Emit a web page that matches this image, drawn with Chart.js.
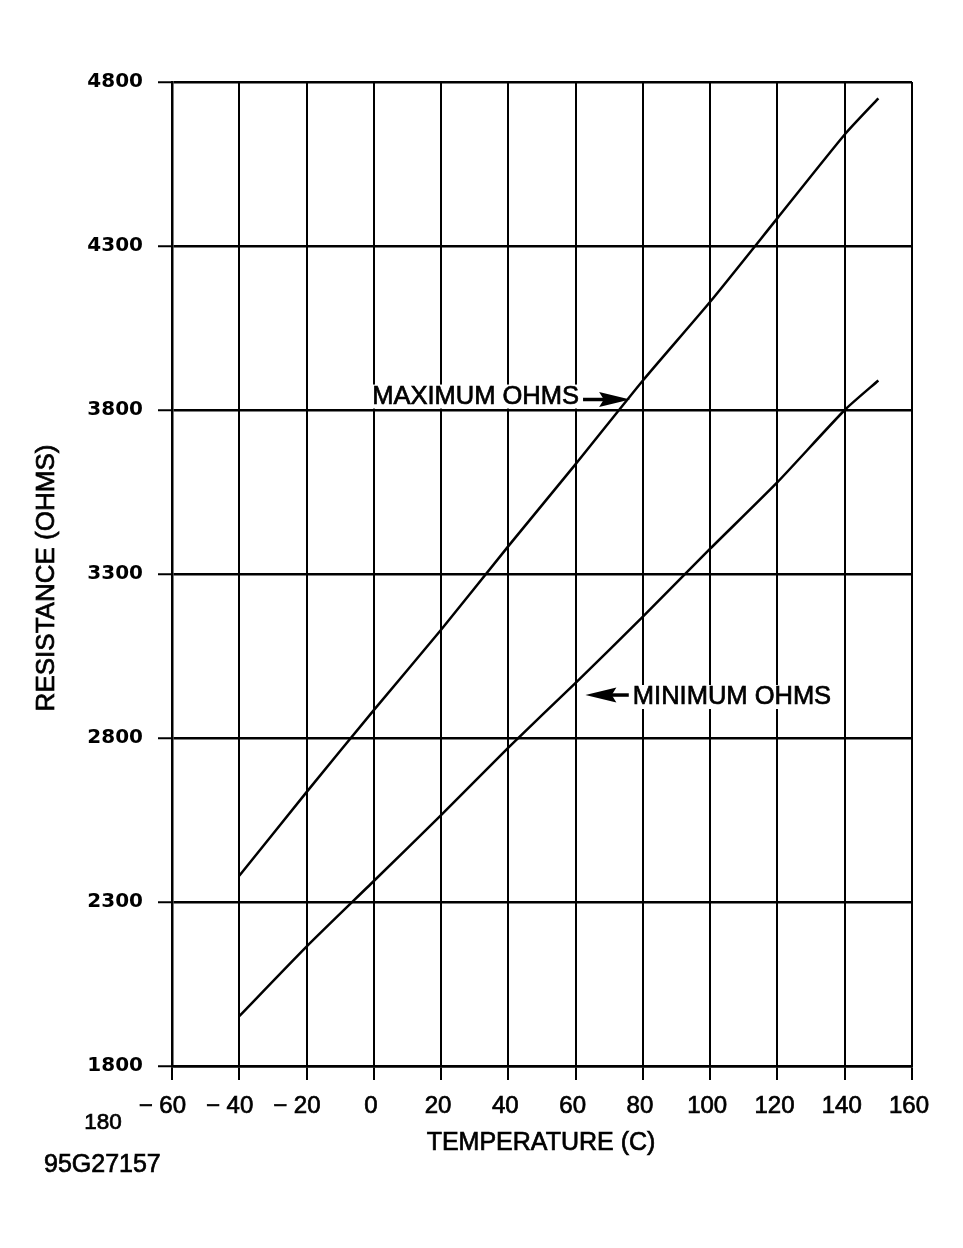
<!DOCTYPE html>
<html><head><meta charset="utf-8">
<script src="https://cdn.jsdelivr.net/npm/chart.js@4/dist/chart.umd.min.js"></script>
<style>html,body{margin:0;padding:0;background:#fff}canvas{display:block}</style>
</head><body>
<canvas id="c" width="963" height="1248" style="width:963px;height:1248px"></canvas>
<script>
// Data
const temperatures = [-40, -20, 0, 20, 40, 60, 80, 100, 120, 140, 150];
const maximumOhms = [2380, 2635, 2885, 3130, 3385, 3635, 3890, 4130, 4385, 4640, 4750];
const minimumOhms = [1952, 2164, 2364, 2565, 2771, 2968, 3170, 3377, 3580, 3800, 3890];
const xTickValues = [-60, -40, -20, 0, 20, 40, 60, 80, 100, 120, 140, 160];
const yTickValues = [1800, 2300, 2800, 3300, 3800, 4300, 4800];

const xTitle = 'TEMPERATURE (C)';
const yTitle = 'RESISTANCE (OHMS)';
const maxLabel = 'MAXIMUM OHMS';
const minLabel = 'MINIMUM OHMS';
const strayLabel = '180';
const figureId = '95G27157';

// Annotation anchors in data units
const maxLabelAnchor = {x: 61, y: 3841};
const maxArrow = {from: 62.2, to: 76.2, y: 3832};
const minLabelAnchor = {x: 77, y: 2925};
const minArrow = {from: 75.8, to: 62.9, y: 2931};

const mkPoints = (xs, ys) => xs.map((x, i) => ({x, y: ys[i]}));

const FONT = '"Liberation Sans", Arial, sans-serif';

const textPlugin = {
  id: 'texts',
  afterDraw(chart) {
    const ctx = chart.ctx;
    const xs = chart.scales.x, ys = chart.scales.y;
    ctx.save();
    ctx.fillStyle = '#000';
    ctx.strokeStyle = '#000';
    const txt = (s, x, y) => { ctx.lineWidth = 0.7; ctx.fillText(s, x, y); ctx.strokeText(s, x, y); };
    const boxed = (s, x, y, align) => {
      ctx.textAlign = align;
      const w = ctx.measureText(s).width;
      const left = align === 'right' ? x - w : x;
      ctx.fillStyle = '#fff';
      ctx.fillRect(left - 3, y - 12, w + 6, 24);
      ctx.fillStyle = '#000';
      txt(s, x, y);
    };
    // annotations
    ctx.font = '25.5px ' + FONT;
    ctx.textBaseline = 'middle';
    boxed(maxLabel, xs.getPixelForValue(maxLabelAnchor.x), ys.getPixelForValue(maxLabelAnchor.y), 'right');
    boxed(minLabel, xs.getPixelForValue(minLabelAnchor.x), ys.getPixelForValue(minLabelAnchor.y), 'left');
    const arrow = (a) => {
      const x0 = xs.getPixelForValue(a.from), x1 = xs.getPixelForValue(a.to), y = ys.getPixelForValue(a.y);
      const dir = Math.sign(x1 - x0);
      const head = 31;
      ctx.lineWidth = 3.5;
      ctx.beginPath(); ctx.moveTo(x0, y); ctx.lineTo(x1 - dir * head + dir * 6, y); ctx.stroke();
      ctx.beginPath();
      ctx.moveTo(x1, y);
      ctx.lineTo(x1 - dir * head, y - 7.5);
      ctx.lineTo(x1 - dir * head * 0.85, y);
      ctx.lineTo(x1 - dir * head, y + 7.5);
      ctx.closePath(); ctx.fill();
    };
    arrow(maxArrow); arrow(minArrow);
    // axis titles & other text
    ctx.textAlign = 'center';
    ctx.font = '25px ' + FONT;
    txt(xTitle, 541, 1143);
    ctx.font = '22.5px ' + FONT;
    txt(strayLabel, 103, 1123);
    ctx.font = '25px ' + FONT;
    ctx.textAlign = 'left';
    txt(figureId, 44, 1165);
    ctx.translate(47, 578);
    ctx.rotate(-Math.PI / 2);
    ctx.textAlign = 'center';
    ctx.font = '26px ' + FONT;
    txt(yTitle, 0, 0);
    ctx.restore();
  }
};

new Chart(document.getElementById('c'), {
  type: 'line',
  data: {
    datasets: [
      {label: maxLabel, data: mkPoints(temperatures, maximumOhms), borderColor: '#000', borderWidth: 2.5, pointRadius: 0, tension: 0.2, fill: false},
      {label: minLabel, data: mkPoints(temperatures, minimumOhms), borderColor: '#000', borderWidth: 2.5, pointRadius: 0, tension: 0.2, fill: false}
    ]
  },
  options: {
    responsive: false,
    animation: false,
    devicePixelRatio: 1,
    layout: {padding: {left: 0, right: 51, top: 82, bottom: 0}},
    plugins: {legend: {display: false}, tooltip: {enabled: false}},
    scales: {
      x: {
        type: 'linear', min: -60, max: 160,
        afterBuildTicks: (s) => { s.ticks = xTickValues.map(v => ({value: v})); },
        afterFit: (s) => { s.height = 182; },
        grid: {color: '#000', lineWidth: 2, tickLength: 14, tickColor: '#000', tickWidth: 2},
        border: {color: '#000', width: 2.5},
        ticks: {
          color: '#000', padding: 12, maxRotation: 0, autoSkip: false, labelOffset: -3,
          textStrokeColor: '#000', textStrokeWidth: 0.7,
          font: {family: FONT, size: 24},
          callback: (v) => v < 0 ? '\u2212 ' + Math.abs(v) + '  ' : String(v)
        }
      },
      y: {
        type: 'linear', min: 1800, max: 4800,
        afterBuildTicks: (s) => { s.ticks = yTickValues.map(v => ({value: v})); },
        afterFit: (s) => { s.width = 172; },
        grid: {color: '#000', lineWidth: 2.5, tickLength: 14, tickColor: '#000', tickWidth: 2},
        border: {color: '#000', width: 2.5},
        ticks: {
          color: '#000', padding: 15, autoSkip: false,
          font: {family: '"DejaVu Sans", sans-serif', size: 20, weight: 'bold'},
          callback: (v) => String(v)
        }
      }
    }
  },
  plugins: [textPlugin]
});
</script>
</body></html>
